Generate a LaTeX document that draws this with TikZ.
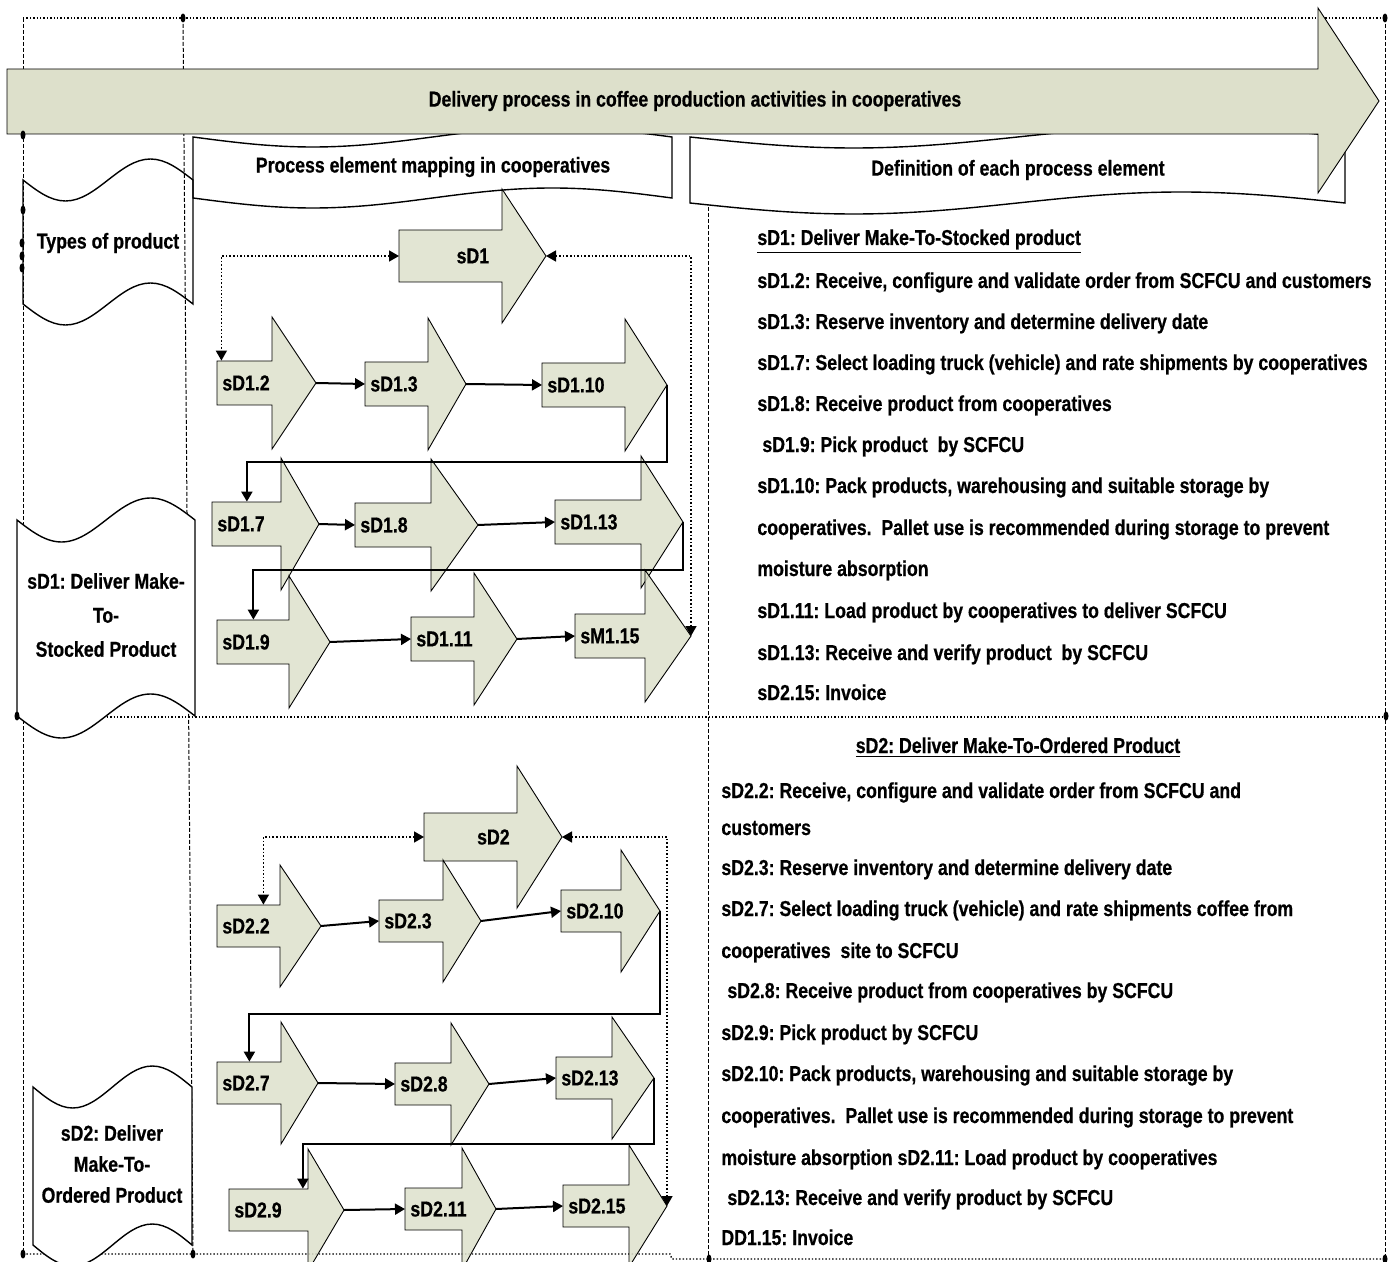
\documentclass[tikz,border=0pt]{standalone}
\usepackage{fontspec}
\setmainfont{Liberation Sans}[FakeStretch=0.82, BoldFeatures={FakeBold=0.6}]
\usepackage{tikz}
\usetikzlibrary{arrows.meta, calc}
\definecolor{stepfill}{HTML}{DDE0CB}
\frenchspacing

\tikzset{
  txt/.style={font=\fontsize{10.8}{13}\selectfont\bfseries, inner sep=0pt},
  frameh/.style={densely dotted, line width=0.7pt},
  framev/.style={dash pattern=on 2pt off 1pt, line width=0.5pt},
  tapeline/.style={draw, line width=0.7pt, fill=white},
  stepbody/.style={draw, line width=0.45pt, fill=stepfill, fill opacity=0.85},
  steplabel/.style={txt, anchor=west, inner xsep=2.5pt, align=left},
  flow/.style={line width=1pt, -{Triangle[length=5pt,width=5.5pt]}},
  link/.style={densely dotted, line width=0.8pt,
    {Triangle[length=5pt,width=5.5pt]}-{Triangle[length=5pt,width=5.5pt]}},
}

% wavy banner: style, x0, x1, top y, bottom y, amplitude
\newcommand{\wavetape}[6]{%
  \pgfmathsetmacro\wq{(#3-#2)/4}
  \draw[#1] (#2,#4) sin ({#2+\wq},{#4+#6}) cos ({#2+2*\wq},#4)
    sin ({#2+3*\wq},{#4-#6}) cos (#3,#4) -- (#3,#5)
    sin ({#2+3*\wq},{#5-#6}) cos ({#2+2*\wq},#5)
    sin ({#2+\wq},{#5+#6}) cos (#2,#5) -- cycle;}

% block arrow: x, y, body length, head length, half body, half head
\newcommand{\stepshape}[6]{%
  \draw[stepbody] (#1,{#2-#5}) -- ({#1+#3},{#2-#5}) -- ({#1+#3},{#2-#6})
    -- ({#1+#3+#4},#2) -- ({#1+#3},{#2+#6}) -- ({#1+#3},{#2+#5})
    -- (#1,{#2+#5}) -- cycle;}

\begin{document}
\begin{tikzpicture}[x=0.5pt, y=-0.5pt]
\useasboundingbox (0,0) rectangle (1397,1262);
\clip (0,0) rectangle (1397,1262);

% Frame
\draw[frameh] (23,18) -- (1385,18);
\draw[frameh] (15,717) -- (1385,717);
\draw[frameh] (23,1254) -- (670,1254) -- (672,1259) -- (1385,1259);
\draw[framev] (23,18) -- (23,1254);
\draw[framev] (183,18) -- (193,1254);
\draw[framev] (708,207) -- (708,1259);
\draw[framev] (1385,18) -- (1385,1259);

% Column headers
\wavetape{tapeline}{193}{672}{137}{198}{10}
\node[txt] (mapping) at (433,167) {Process element mapping in cooperatives};
\wavetape{tapeline}{690}{1345}{137}{203}{11}
\node[txt] (definition) at (1018,170) {Definition of each process element};

% Main arrow
\draw[stepbody, fill opacity=1] (7,69) -- (1318,69) -- (1318,8) -- (1379,101)
  -- (1318,193) -- (1318,134) -- (7,134) -- cycle;
\node[txt] (title) at (695,101) {Delivery process in coffee production activities in cooperatives};

% Product types
\wavetape{draw, line width=0.7pt}{23}{193}{180}{304}{21}
\node[txt] (types) at (108,243) {Types of product};
\wavetape{tapeline}{17}{195}{520}{716}{22}
\node[txt, align=center, font=\fontsize{10.8}{17}\selectfont\bfseries] (stocked)
  at (106,615) {sD1: Deliver Make-\\To-\\Stocked Product};
\wavetape{tapeline}{33}{192}{1087}{1245}{21}
\node[txt, align=center, font=\fontsize{10.8}{15.5}\selectfont\bfseries] (ordered)
  at (112,1164) {sD2: Deliver\\Make-To-\\Ordered Product};

% sD1 elements
\stepshape{399}{256}{103}{44}{26}{67}
\node[txt, anchor=west, minimum width=73.5pt, minimum height=26pt] (sD1) at (399,256) {sD1};
\coordinate (sD1-tip) at (546,256);
\foreach \n/\x/\y/\l/\h/\t in {
  sD12/217/383/55/44/sD1.2, sD13/365/384/63/38/sD1.3, sD110/542/385/83/42/sD1.10,
  sD17/212/524/69/38/sD1.7, sD18/355/525/76/47/sD1.8, sD113/555/522/86/42/sD1.13,
  sD19/217/642/72/41/sD1.9, sD111/411/639/63/43/sD1.11, sM115/575/636/70/46/sM1.15}{
  \stepshape{\x}{\y}{\l}{\h}{22}{66}
  \pgfmathsetmacro\tw{(\l-10)*0.5}
  \node[steplabel, text width=\tw pt, minimum height=22pt] (\n) at (\x,\y) {\t};
  \coordinate (\n-tip) at ({\x+\l+\h},\y);
}
\foreach \a/\b in {sD12/sD13, sD13/sD110, sD17/sD18, sD18/sD113, sD19/sD111, sD111/sM115}
  \draw[flow] (\a-tip) -- (\b.west);
\draw[flow] (sD110-tip) |- ([yshift=20pt]sD17.north) -- (sD17.north);
\draw[flow] (sD113-tip) |- ([yshift=25pt]sD19.north) -- (sD19.north);
\draw[link] (sD1.west) -| ([xshift=-11.75pt]sD12.north);
\draw[link] (sD1-tip) -| (sM115-tip);

% sD2 elements
\stepshape{424}{837}{93}{45}{24}{71}
\node[txt, anchor=west, minimum width=69pt, minimum height=24pt] (sD2) at (424,837) {sD2};
\coordinate (sD2-tip) at (562,837);
\foreach \n/\x/\y/\l/\h/\t in {
  sD22/217/926/63/41/sD2.2, sD23/379/921/64/38/sD2.3, sD210/561/911/60/39/sD2.10,
  sD27/217/1083/64/37/sD2.7, sD28/395/1084/56/38/sD2.8, sD213/556/1078/56/42/sD2.13,
  sD29/229/1210/79/36/sD2.9, sD211/405/1209/57/34/sD2.11, sD215/563/1206/66/38/sD2.15}{
  \stepshape{\x}{\y}{\l}{\h}{21}{61}
  \pgfmathsetmacro\tw{(\l-10)*0.5}
  \node[steplabel, text width=\tw pt, minimum height=21pt] (\n) at (\x,\y) {\t};
  \coordinate (\n-tip) at ({\x+\l+\h},\y);
}
\foreach \a/\b in {sD22/sD23, sD23/sD210, sD27/sD28, sD28/sD213, sD29/sD211, sD211/sD215}
  \draw[flow] (\a-tip) -- (\b.west);
\draw[flow] (sD210-tip) |- ([yshift=24pt]sD27.north) -- (sD27.north);
\draw[flow] (sD213-tip) |- ([xshift=17pt,yshift=22.5pt]sD29.north) -- ([xshift=17pt]sD29.north);
\draw[link] (sD2.west) -| ([xshift=7.25pt]sD22.north);
\draw[link] (sD2-tip) -| (sD215-tip);

% Definitions
\foreach \x/\y/\t [count=\i] in {
  757/245/\underline{sD1: Deliver Make-To-Stocked product},
  757/288/{sD1.2: Receive, configure and validate order from SCFCU and customers},
  757/329/sD1.3: Reserve inventory and determine delivery date,
  757/370/sD1.7: Select loading truck (vehicle) and rate shipments by cooperatives,
  757/411/sD1.8: Receive product from cooperatives,
  762/452/sD1.9: Pick product\ \ by SCFCU,
  757/493/{sD1.10: Pack products, warehousing and suitable storage by},
  757/535/{cooperatives.\ \ Pallet use is recommended during storage to prevent},
  757/576/moisture absorption,
  757/618/sD1.11: Load product by cooperatives to deliver SCFCU,
  757/660/sD1.13: Receive and verify product\ \ by SCFCU,
  757/700/sD2.15: Invoice}
  \node[txt, anchor=base west] (defa\i) at (\x,\y) {\t};

\node[txt, anchor=base] (defb0) at (1018,753) {\underline{sD2: Deliver Make-To-Ordered Product}};
\foreach \x/\y/\t [count=\i] in {
  721/798/{sD2.2: Receive, configure and validate order from SCFCU and},
  721/835/customers,
  721/875/sD2.3: Reserve inventory and determine delivery date,
  721/916/sD2.7: Select loading truck (vehicle) and rate shipments coffee from,
  721/958/cooperatives\ \ site to SCFCU,
  727/998/sD2.8: Receive product from cooperatives by SCFCU,
  721/1040/sD2.9: Pick product by SCFCU,
  721/1081/{sD2.10: Pack products, warehousing and suitable storage by},
  721/1123/{cooperatives.\ \ Pallet use is recommended during storage to prevent},
  721/1165/moisture absorption sD2.11: Load product by cooperatives,
  727/1205/sD2.13: Receive and verify product by SCFCU,
  721/1245/DD1.15: Invoice}
  \node[txt, anchor=base west] (defb\i) at (\x,\y) {\t};

% Connection points
\foreach \x/\y in {183/18, 1385/18, 23/135, 23/210, 22/243, 22/256, 22/268,
                   17/716, 1386/716, 23/1254, 193/1254, 709/1259, 1385/1259}
  \fill (\x,\y) ellipse [x radius=2.5, y radius=4.5];
\end{tikzpicture}
\end{document}
